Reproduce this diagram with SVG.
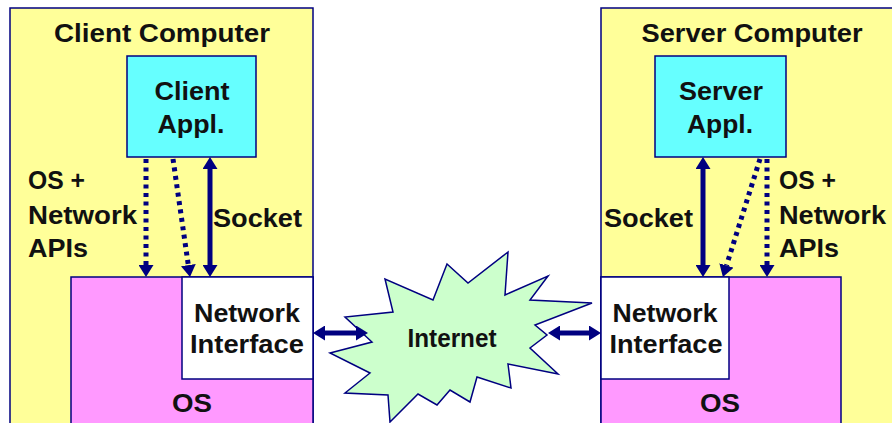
<svg xmlns="http://www.w3.org/2000/svg" width="892" height="423" viewBox="0 0 892 423">
<style>
.box{stroke:#000080;stroke-width:1.5}
.t{font-family:"Liberation Sans",Arial,sans-serif;font-weight:bold;fill:#111;font-size:25px}
.c{text-anchor:middle}
.solid{stroke:#000080;stroke-width:5;fill:none}
.dot{stroke:#000080;stroke-width:5;stroke-dasharray:4 4.5;fill:none}
</style>
<defs>
<marker id="ah" viewBox="0 0 12 15" markerWidth="12" markerHeight="15" markerUnits="userSpaceOnUse" refX="0" refY="7.5" orient="auto-start-reverse">
<path d="M0,0 L12,7.5 L0,15 z" fill="#000080"/>
</marker>
</defs>
<rect width="892" height="423" fill="#ffffff"/>
<g id="client-computer">
<rect class="box" x="10" y="8" width="303" height="430" fill="#ffff99"/>
<text class="t c" x="162" y="42" font-size="26" textLength="216" lengthAdjust="spacingAndGlyphs">Client Computer</text>
</g>
<g id="client-appl">
<rect class="box" x="127" y="56" width="129" height="101" fill="#66ffff"/>
<text class="t c" x="192" y="100" textLength="75" lengthAdjust="spacingAndGlyphs">Client</text>
<text class="t c" x="191" y="133" textLength="67" lengthAdjust="spacingAndGlyphs">Appl.</text>
</g>
<g id="client-os">
<rect class="box" x="71" y="277" width="242" height="160" fill="#ff99ff"/>
<text class="t c" x="192" y="412" textLength="40" lengthAdjust="spacingAndGlyphs">OS</text>
</g>
<g id="client-ni">
<rect class="box" x="182" y="277" width="131" height="102" fill="#ffffff"/>
<text class="t c" x="247" y="322" textLength="106" lengthAdjust="spacingAndGlyphs">Network</text>
<text class="t c" x="247" y="353" textLength="114" lengthAdjust="spacingAndGlyphs">Interface</text>
</g>
<g id="client-labels">
<text class="t" x="28" y="189" textLength="57" lengthAdjust="spacingAndGlyphs">OS +</text>
<text class="t" x="28" y="224" textLength="109" lengthAdjust="spacingAndGlyphs">Network</text>
<text class="t" x="28" y="257" textLength="60" lengthAdjust="spacingAndGlyphs">APIs</text>
<text class="t" x="213" y="227" textLength="89" lengthAdjust="spacingAndGlyphs">Socket</text>
</g>
<g id="server-computer">
<rect class="box" x="601" y="8" width="300" height="430" fill="#ffff99"/>
<text class="t c" x="752" y="42" font-size="26" textLength="221" lengthAdjust="spacingAndGlyphs">Server Computer</text>
</g>
<g id="server-appl">
<rect class="box" x="655" y="56" width="131" height="101" fill="#66ffff"/>
<text class="t c" x="721" y="100" textLength="84" lengthAdjust="spacingAndGlyphs">Server</text>
<text class="t c" x="720" y="133" textLength="66" lengthAdjust="spacingAndGlyphs">Appl.</text>
</g>
<g id="server-os">
<rect class="box" x="601" y="277" width="240" height="160" fill="#ff99ff"/>
<text class="t c" x="720" y="412" textLength="40" lengthAdjust="spacingAndGlyphs">OS</text>
</g>
<g id="server-ni">
<rect class="box" x="601" y="277" width="128" height="102" fill="#ffffff"/>
<text class="t c" x="665" y="322" textLength="105" lengthAdjust="spacingAndGlyphs">Network</text>
<text class="t c" x="666" y="353" textLength="113" lengthAdjust="spacingAndGlyphs">Interface</text>
</g>
<g id="server-labels">
<text class="t" x="779" y="189" textLength="57" lengthAdjust="spacingAndGlyphs">OS +</text>
<text class="t" x="779" y="224" textLength="107" lengthAdjust="spacingAndGlyphs">Network</text>
<text class="t" x="779" y="257" textLength="60" lengthAdjust="spacingAndGlyphs">APIs</text>
<text class="t" x="604" y="227" textLength="89" lengthAdjust="spacingAndGlyphs">Socket</text>
</g>
<g id="internet">
<polygon points="330,353 372,342 345,317 393,312 385,279 433,300 447,264 468,283 508,252 505,295 548,276 530,300 592,303 535,325 547,335 530,348 558,374 508,364 511,388 477,377 470,402 450,390 437,405 418,394 390,422 388,395 345,393 370,373" fill="#ccffcc" stroke="#000080" stroke-width="1.5" stroke-linejoin="miter"/>
<text class="t c" x="452" y="347" font-size="22" textLength="89" lengthAdjust="spacingAndGlyphs">Internet</text>
</g>
<g id="connectors">
<line class="dot" x1="146" y1="159" x2="146" y2="265" marker-end="url(#ah)"/>
<line class="dot" x1="173" y1="159" x2="188.3" y2="265.1" marker-end="url(#ah)"/>
<line class="solid" x1="210" y1="169" x2="210" y2="265" marker-start="url(#ah)" marker-end="url(#ah)"/>
<line class="solid" x1="703" y1="169" x2="703" y2="265" marker-start="url(#ah)" marker-end="url(#ah)"/>
<line class="dot" x1="760" y1="159" x2="726.5" y2="265.5" marker-end="url(#ah)"/>
<line class="dot" x1="767" y1="159" x2="767" y2="265" marker-end="url(#ah)"/>
<line class="solid" x1="325" y1="333" x2="356" y2="333" marker-start="url(#ah)" marker-end="url(#ah)"/>
<line class="solid" x1="560" y1="333" x2="589" y2="333" marker-start="url(#ah)" marker-end="url(#ah)"/>
</g>
</svg>
